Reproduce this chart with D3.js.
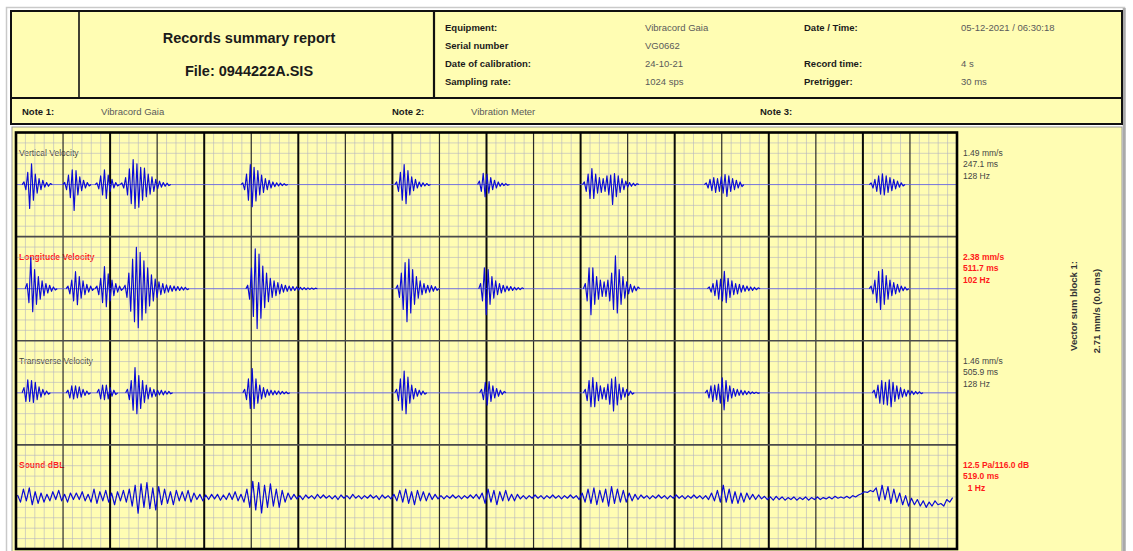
<!DOCTYPE html>
<html>
<head>
<meta charset="utf-8">
<script src="https://cdn.jsdelivr.net/npm/d3@7"></script>
<style>
  html, body { margin: 0; padding: 0; background: #fff; }
  svg { display: block; font-family: "Liberation Sans", Arial, sans-serif; }
</style>
</head>
<body>
<svg id="chart" width="1133" height="551"></svg>
<script>
// ---- Record meta data ----
const headerLabelsLeft  = ["Equipment:", "Serial number", "Date of calibration:", "Sampling rate:"];
const headerValuesLeft  = ["Vibracord Gaia", "VG0662", "24-10-21", "1024 sps"];
const headerLabelsRight = ["Date / Time:", "", "Record time:", "Pretrigger:"];
const headerValuesRight = ["05-12-2021 / 06:30:18", "", "4 s", "30 ms"];
const noteLabels = ["Note 1:", "Note 2:", "Note 3:"];
const noteValues = ["Vibracord Gaia", "Vibration Meter", ""];

// ---- Channels and peak values ----
const recordSeconds = 4;
const channelNames  = ["Vertical Velocity", "Longitude Velocity", "Transverse Velocity", "Sound dBL"];
const channelRanges = [3, 3, 3, 40];            // +/- full scale per channel (mm/s, mm/s, mm/s, Pa)
const peakValues    = [1.49, 2.38, 1.46, 12.5];
const peakUnits     = ["mm/s", "mm/s", "mm/s", "Pa"];
const peakTimesMs   = [247.1, 511.7, 505.9, 519.0];
const peakFreqHz    = [128, 102, 128, 1];
const soundPeakDb   = 116.0;
const vectorSum     = 2.71;
const vectorSumMs   = 0.0;

// ---- Velocity traces: bursts of samples (mm/s), one sample every sampleStep seconds ----
const sampleStep = 0.008;
const verticalBursts = [
  { t0: 0.034, v: [0.15,-0.3,0.7,-1.38,1.2,-0.9,0.6,-0.5,0.35,-0.3,0.25,-0.15,0.12,-0.1,0.06] },
  { t0: 0.2071, v: [0.12,-0.3,0.55,-0.75,0.85,-1.49,0.8,-0.6,0.45,-0.35,0.25,-0.2,0.12,-0.08] },
  { t0: 0.344, v: [0.1,-0.25,0.5,-0.6,0.85,-0.8,0.55,-0.4,0.3,-0.2,0.12,-0.08] },
  { t0: 0.450, v: [0.1,-0.2,0.4,-0.6,0.9,-1.1,1.44,-1.38,1.2,-1.3,1.0,-0.9,0.95,-0.7,0.6,-0.55,0.45,-0.4,0.3,-0.25,0.2,-0.15,0.12,-0.1,0.08,-0.06] },
  { t0: 0.964, v: [0.1,-0.3,0.6,-0.9,1.15,-1.27,1.0,-0.95,0.8,-0.6,0.55,-0.45,0.35,-0.3,0.25,-0.2,0.15,-0.12,0.1,-0.08,0.08,-0.06,0.05,-0.04] },
  { t0: 1.618, v: [0.15,-0.4,0.7,-0.9,1.15,-1.1,0.8,-0.6,0.45,-0.35,0.3,-0.2,0.15,-0.12,0.1,-0.08,0.06,-0.05] },
  { t0: 1.970, v: [0.2,-0.4,0.65,-0.7,0.6,-0.5,0.4,-0.3,0.25,-0.2,0.15,-0.1,0.08,-0.06,0.05,-0.04] },
  { t0: 2.416, v: [0.15,-0.4,0.6,-0.8,0.92,-0.8,0.6,-0.5,0.4,-0.45,0.35,-0.4,0.5,-0.6,0.55,-1.15,0.64,-0.7,0.5,-0.45,0.35,-0.3,0.2,-0.15,0.12,-0.1,0.08,-0.06,0.05] },
  { t0: 2.934, v: [0.1,-0.2,0.3,-0.35,0.4,-0.45,0.35,-0.4,0.45,-0.5,0.58,-0.69,0.5,-0.4,0.35,-0.3,0.25,-0.2,0.15,-0.12] },
  { t0: 3.635, v: [0.1,-0.2,0.3,-0.4,0.5,-0.55,0.62,-0.6,0.5,-0.45,0.4,-0.35,0.3,-0.25,0.2,-0.15,0.1,-0.08] }
];
const longitudeBursts = [
  { t0: 0.047, v: [0.3,-0.8,1.79,-1.33,1.1,-0.9,0.7,-0.6,0.45,-0.4,0.3,-0.25,0.2,-0.15,0.1,-0.08] },
  { t0: 0.221, v: [0.15,-0.3,0.5,-0.7,0.98,-0.92,0.7,-0.55,0.45,-0.35,0.25,-0.2,0.15,-0.1] },
  { t0: 0.344, v: [0.15,-0.35,0.6,-0.8,1.27,-1.04,0.85,-0.7,0.5,-0.4,0.3,-0.2,0.15,-0.1] },
  { t0: 0.4637, v: [0.2,-0.5,0.9,-1.3,1.7,-1.9,2.38,-2.25,2.1,-1.8,1.6,-1.4,1.2,-1.0,0.8,-0.7,0.55,-0.5,0.4,-0.35,0.3,-0.25,0.22,-0.2,0.18,-0.15,0.15,-0.12,0.12,-0.1,0.1,-0.08,0.08,-0.06] },
  { t0: 0.985, v: [0.2,-0.6,1.2,-1.6,2.3,-2.3,2.0,-1.7,1.3,-1.1,0.9,-0.75,0.6,-0.5,0.45,-0.4,0.35,-0.3,0.25,-0.2,0.2,-0.15,0.15,-0.12,0.12,-0.1,0.1,-0.08,0.08,-0.06,0.06,-0.05,0.05,-0.04,0.04,-0.03,0.03] },
  { t0: 1.622, v: [0.2,-0.5,0.9,-1.2,1.5,-1.9,1.7,-1.4,1.1,-0.9,0.7,-0.55,0.45,-0.35,0.3,-0.25,0.2,-0.2,0.18,-0.15,0.12,-0.1] },
  { t0: 1.975, v: [0.3,-0.7,1.2,-1.5,1.1,-0.9,0.7,-0.55,0.45,-0.35,0.3,-0.25,0.2,-0.18,0.15,-0.12,0.12,-0.1,0.08,-0.07,0.06,-0.05,0.05] },
  { t0: 2.420, v: [0.3,-0.7,1.2,-1.5,1.2,-0.9,0.7,-0.6,0.5,-0.45,0.4,-0.45,0.5,-0.7,0.9,-1.2,1.9,-1.4,1.1,-0.9,0.7,-0.55,0.4,-0.3,0.25,-0.2,0.15,-0.12,0.1] },
  { t0: 2.947, v: [0.1,-0.2,0.3,-0.4,0.5,-0.6,0.55,-0.7,1.0,-0.8,0.6,-0.5,0.45,-0.35,0.3,-0.3,0.25,-0.2,0.2,-0.15,0.15,-0.12,0.1,-0.1,0.08,-0.06,0.05] },
  { t0: 3.635, v: [0.15,-0.3,0.5,-0.8,1.0,-1.2,1.1,-0.9,0.75,-0.6,0.5,-0.4,0.35,-0.3,0.25,-0.2,0.15,-0.12,0.1,-0.08] }
];
const transverseBursts = [
  { t0: 0.034, v: [0.3,-0.5,0.75,-0.5,0.7,-0.55,0.6,-0.4,0.35,-0.25,0.2,-0.12,0.1,-0.08] },
  { t0: 0.221, v: [0.15,-0.3,0.4,-0.35,0.4,-0.3,0.35,-0.25,0.2,-0.15,0.1,-0.08] },
  { t0: 0.352, v: [0.2,-0.35,0.45,-0.4,0.45,-0.35,0.3,-0.2,0.15,-0.1] },
  { t0: 0.4739, v: [0.2,-0.4,0.7,-1.0,1.46,-1.2,1.0,-0.9,0.7,-0.55,0.45,-0.35,0.3,-0.25,0.2,-0.2,0.15,-0.12,0.15,-0.12,0.1,-0.08,0.08,-0.06] },
  { t0: 0.972, v: [0.2,-0.4,0.8,-0.9,1.4,-0.9,0.8,-0.6,0.45,-0.35,0.3,-0.25,0.2,-0.15,0.15,-0.12,0.12,-0.1,0.1,-0.08,0.08,-0.06,0.06,-0.05] },
  { t0: 1.618, v: [0.2,-0.45,0.8,-1.0,1.25,-1.2,0.9,-0.6,0.45,-0.35,0.25,-0.2,0.15,-0.12,0.1,-0.08] },
  { t0: 1.979, v: [0.2,-0.4,0.6,-0.7,0.65,-0.5,0.4,-0.3,0.25,-0.2,0.15,-0.1,0.08] },
  { t0: 2.420, v: [0.2,-0.45,0.7,-0.8,0.88,-0.8,0.6,-0.45,0.4,-0.35,0.3,-0.4,0.5,-0.65,0.8,-1.05,0.9,-0.7,0.5,-0.4,0.3,-0.25,0.2,-0.15,0.1,-0.08] },
  { t0: 2.938, v: [0.15,-0.3,0.4,-0.5,0.45,-0.4,0.5,-0.6,0.87,-0.98,0.7,-0.5,0.4,-0.3,0.25,-0.2,0.2,-0.15,0.15,-0.12,0.12,-0.1,0.08,-0.06,0.05,-0.04,0.04,-0.03] },
  { t0: 3.648, v: [0.15,-0.3,0.45,-0.6,0.7,-0.65,0.6,-0.7,0.75,-0.8,0.6,-0.5,0.4,-0.35,0.3,-0.25,0.2,-0.2,0.15,-0.12,0.1,-0.1,0.08,-0.06,0.06,-0.05] }
];

// ---- Sound trace (Pa), continuous, one sample every soundStep seconds ----
const soundStart = 0.0065;
const soundStep = 0.0125;
const soundPa = [
  1.5,-4,6,-3,7,-6,4,-5,3,-4,
  2,-3,4,-2,5,-3,2,-4,3,-2,
  3,-2,4,-3,2,-4,6,-5,4,-3,
  5,-4,3,-6,4,-3,5,-4,6,-7,
  9,-12.5,10,-8,11,-9,7,-10,8,-6,
  6,-5,4,-6,5,-3,4,-3,5,-4,
  3,-2,2,-3,1.5,-2,2,-1.5,2,-2.5,
  1.5,-2,3,-2,4,-3,2,-4,6,-8,
  12,-10,11,-12.2,9,-8,10,-7,6,-8,
  5,-4,3,-2,2,-1.5,1,-2,1.5,-1,
  1,-1.5,2,-1,1.5,-1,1,-1.5,1,-2,
  1.5,-1,1,-1.5,2,-1,1,-1.5,1,-1,
  1.5,-1,1,-2,1.5,-1,1,-1.5,2,-3,
  5,-4,6,-5,4,-6,5,-3,4,-3,
  3,-2,2,-1.5,1,-1.5,1,-1,1.5,-1,
  1,-1.5,1,-1,1.5,-1,2,-1.5,3,-5,
  6,-4,5,-6,4,-3,5,-3,2,-3,
  2,-1.5,1,-1.5,1,-1,1.5,-1,1,-1.5,
  1,-1,1.5,-1,1,-1.5,1,-1,1.5,-1,
  1,-2,3,-4,6,-5,7,-6,5,-4,
  6,-7,8,-5,6,-4,5,-4,3,-3,
  2,-2,1.5,-1,1,-1.5,1,-1,1.5,-1,
  1,-1.5,1,-1,1.5,-1,1,-1.5,1,-1,
  1.5,-1,1,-1.5,1,-2,3,-3,5,-4,
  9,-4,6,-5,4,-5,3,-4,3,-2,
  2,-2,1.5,-1.5,0.5,-2,0,-2.5,0.5,-2,
  0,-2.5,-0.5,-2,0,-2.5,-0.5,-2,0,-2.5,
  -0.5,-2,0,-2,-0.5,-1.5,0,-1.5,0.5,-1,
  0,-1,0.5,-1,1,0,1.5,2.5,4,3.5,
  5,4,7,-3,9,-2,8,-5,6,-4,
  3,-6,1,-7,-1,-6,-2,-7,-3,-8,
  -4,-7,-3,-6,-5,-7,-2,-4,-0.5
];

// ---- Styles ----
const paper = "#fffdb3";
const ink = "#111";
const traceBlue = "#0a0ad6";
const redText = "#ff1a1a";
const minorGrid = "#b4b4c0";

const svg = d3.select("#chart");

// page outline
svg.append("rect").attr("x", 0).attr("y", 0).attr("width", 1133).attr("height", 551).attr("fill", "#fff");
svg.append("path").attr("d", "M6.5,551 V7.5 H1124.5 V551")
  .attr("fill", "none").attr("stroke", "#c9c9c9").attr("stroke-width", 1.5);
svg.append("line").attr("x1", 1124.2).attr("x2", 1124.2).attr("y1", 8).attr("y2", 551)
  .attr("stroke", "#a9a9a9").attr("stroke-width", 3);

// ---- Header block ----
svg.append("rect").attr("x", 11).attr("y", 11).attr("width", 1111).attr("height", 87)
  .attr("fill", paper).attr("stroke", ink).attr("stroke-width", 2);
svg.append("line").attr("x1", 79).attr("x2", 79).attr("y1", 11).attr("y2", 98).attr("stroke", ink).attr("stroke-width", 1.6);
svg.append("line").attr("x1", 434).attr("x2", 434).attr("y1", 11).attr("y2", 98).attr("stroke", ink).attr("stroke-width", 2.2);

svg.append("text").attr("x", 249).attr("y", 43).attr("text-anchor", "middle")
  .attr("font-size", 14.5).attr("font-weight", "bold").attr("fill", "#1a1a1a").text("Records summary report");
svg.append("text").attr("x", 249).attr("y", 76).attr("text-anchor", "middle")
  .attr("font-size", 14.5).attr("font-weight", "bold").attr("fill", "#1a1a1a").text("File: 0944222A.SIS");

const rowY = d3.scalePoint().domain(d3.range(4)).range([30.5, 84.5]);
const headerCols = [
  { x: 445, items: headerLabelsLeft, bold: true },
  { x: 645, items: headerValuesLeft, bold: false },
  { x: 804, items: headerLabelsRight, bold: true },
  { x: 961, items: headerValuesRight, bold: false }
];
headerCols.forEach(col => {
  svg.append("g").selectAll("text").data(col.items).join("text")
    .attr("x", col.x).attr("y", (d, i) => rowY(i))
    .attr("font-size", 9.5)
    .attr("font-weight", col.bold ? "bold" : "normal")
    .attr("fill", col.bold ? "#1a1a1a" : "#5a5a5a")
    .text(d => d);
});

// ---- Note row ----
svg.append("rect").attr("x", 11).attr("y", 98).attr("width", 1111).attr("height", 26)
  .attr("fill", paper).attr("stroke", ink).attr("stroke-width", 2);
const noteX = [22, 392, 760];
const noteValX = [101, 471, 840];
noteLabels.forEach((n, i) => {
  svg.append("text").attr("x", noteX[i]).attr("y", 114.5).attr("font-size", 9.5)
    .attr("font-weight", "bold").attr("fill", "#1a1a1a").text(n);
  svg.append("text").attr("x", noteValX[i]).attr("y", 114.5).attr("font-size", 9.5)
    .attr("fill", "#5a5a5a").text(noteValues[i]);
});

// ---- Chart panel ----
svg.append("rect").attr("x", 12).attr("y", 127).attr("width", 1110).attr("height", 440)
  .attr("fill", paper).attr("stroke", "#9a9a9a").attr("stroke-width", 1);

const plotLeft = 16, plotRight = 957, plotTop = 132.5, plotBottom = 549;
const x = d3.scaleLinear().domain([0, recordSeconds]).range([plotLeft, plotRight]);
const band = d3.scaleBand().domain(channelNames).range([plotTop, plotBottom]);
const yScales = channelNames.map((n, i) =>
  d3.scaleLinear().domain([-channelRanges[i], channelRanges[i]])
    .range([band(n) + band.bandwidth(), band(n)]));

// channel names (drawn under the grid lines)
const labelBold = [false, true, false, true];
const labelColor = ["#444", redText, "#444", redText];
svg.append("g").selectAll("text").data(channelNames).join("text")
  .attr("x", 19).attr("y", n => band(n) + 23)
  .attr("font-size", 8.5)
  .attr("font-weight", (d, i) => labelBold[i] ? "bold" : "normal")
  .attr("fill", (d, i) => labelColor[i])
  .text(d => d);

// minor grid
const grid = svg.append("g");
const minorT = d3.range(0, 101).map(i => i * recordSeconds / 100);
grid.selectAll("line.vminor").data(minorT.filter((t, i) => i % 5 !== 0)).join("line")
  .attr("class", "vminor")
  .attr("x1", d => x(d)).attr("x2", d => x(d)).attr("y1", plotTop).attr("y2", plotBottom)
  .attr("stroke", minorGrid).attr("stroke-opacity", 0.6).attr("stroke-width", 1);
channelNames.forEach((n, i) => {
  const y = yScales[i];
  const r = channelRanges[i];
  const ticks = d3.range(1, 10).map(k => -r + k * (2 * r) / 10);
  grid.append("g").selectAll("line").data(ticks).join("line")
    .attr("x1", plotLeft).attr("x2", plotRight)
    .attr("y1", d => y(d)).attr("y2", d => y(d))
    .attr("stroke", minorGrid).attr("stroke-opacity", 0.6).attr("stroke-width", 1);
});

// major time grid: every 0.2 s, heavier every 0.4 s
const majorT = d3.range(1, 20).map(i => i * recordSeconds / 20);
grid.selectAll("line.vmajor").data(majorT).join("line")
  .attr("class", "vmajor")
  .attr("x1", d => x(d)).attr("x2", d => x(d)).attr("y1", plotTop).attr("y2", plotBottom)
  .attr("stroke", (d, i) => (i % 2 === 1) ? "#0a0a0a" : "#2a2a2a")
  .attr("stroke-width", (d, i) => (i % 2 === 1) ? 2 : 1.2);

// channel separators
grid.selectAll("line.sep").data(channelNames.slice(1)).join("line")
  .attr("class", "sep")
  .attr("x1", plotLeft).attr("x2", plotRight)
  .attr("y1", n => band(n)).attr("y2", n => band(n))
  .attr("stroke", "#4a4a4a").attr("stroke-width", 1.6);

// ---- Traces ----
const traces = svg.append("g");
const velocityBursts = [verticalBursts, longitudeBursts, transverseBursts];
velocityBursts.forEach((bursts, ci) => {
  const y = yScales[ci];
  traces.append("line")
    .attr("x1", x(0)).attr("x2", x(recordSeconds))
    .attr("y1", y(0)).attr("y2", y(0))
    .attr("stroke", "#5c5ce8").attr("stroke-opacity", 0.75).attr("stroke-width", 1);
  const line = d3.line().x(d => x(d[0])).y(d => y(d[1]));
  bursts.forEach(b => {
    const pts = [[b.t0 - sampleStep, 0]]
      .concat(b.v.map((v, i) => [b.t0 + i * sampleStep, v]))
      .concat([[b.t0 + b.v.length * sampleStep, 0]]);
    traces.append("path").attr("d", line(pts))
      .attr("fill", "none").attr("stroke", traceBlue).attr("stroke-width", 1.15)
      .attr("stroke-linejoin", "round");
  });
});
{
  const y = yScales[3];
  const line = d3.line().x(d => x(d[0])).y(d => y(d[1]));
  const pts = soundPa.map((v, i) => [soundStart + i * soundStep, v]);
  traces.append("path").attr("d", line(pts))
    .attr("fill", "none").attr("stroke", traceBlue).attr("stroke-width", 1.2)
    .attr("stroke-linejoin", "round");
}

// plot frame
svg.append("rect").attr("x", plotLeft).attr("y", plotTop)
  .attr("width", plotRight - plotLeft).attr("height", plotBottom - plotTop)
  .attr("fill", "none").attr("stroke", "#000").attr("stroke-width", 2.6);

// ---- Peak readouts ----
channelNames.forEach((n, i) => {
  const isSound = i === 3;
  const lines = [
    isSound ? `${peakValues[i].toFixed(1)} ${peakUnits[i]}/${soundPeakDb.toFixed(1)} dB`
            : `${peakValues[i].toFixed(2)} ${peakUnits[i]}`,
    `${peakTimesMs[i].toFixed(1)} ms`,
    isSound ? `\u00a0 ${peakFreqHz[i]} Hz` : `${peakFreqHz[i]} Hz`
  ];
  svg.append("g").selectAll("text").data(lines).join("text")
    .attr("x", 963).attr("y", (d, k) => band(n) + 23 + k * 11.6)
    .attr("font-size", 8.5)
    .attr("font-weight", labelBold[i] ? "bold" : "normal")
    .attr("fill", labelColor[i])
    .text(d => d);
});

// vector sum, written vertically
svg.append("text").attr("transform", "translate(1077,306) rotate(-90)")
  .attr("text-anchor", "middle").attr("font-size", 9.5).attr("font-weight", "bold")
  .attr("fill", "#333").text("Vector sum block 1:");
svg.append("text").attr("transform", "translate(1100,311) rotate(-90)")
  .attr("text-anchor", "middle").attr("font-size", 9.5).attr("font-weight", "bold")
  .attr("fill", "#333").text(`${vectorSum.toFixed(2)} mm/s (${vectorSumMs.toFixed(1)} ms)`);
</script>
</body>
</html>
